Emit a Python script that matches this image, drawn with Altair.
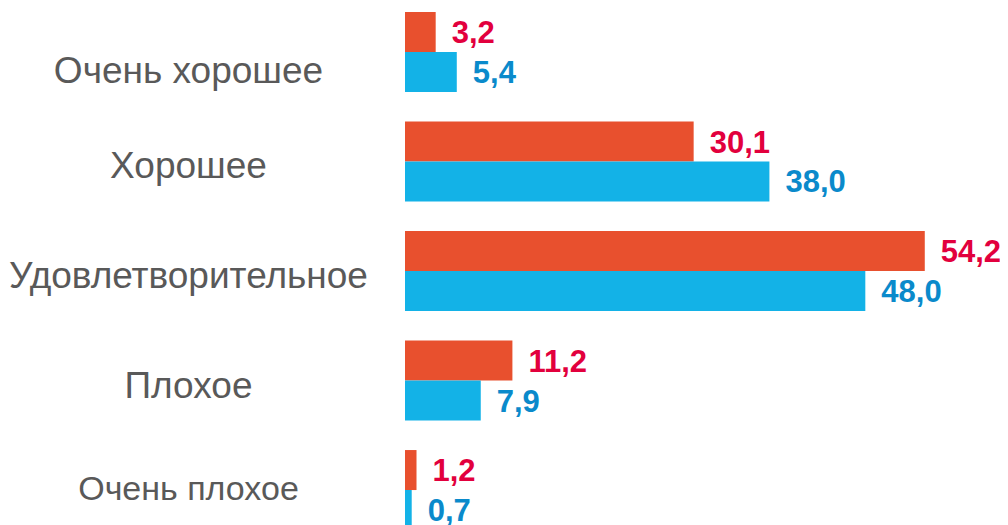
import altair as alt
import pandas as pd

categories = ["Очень хорошее", "Хорошее", "Удовлетворительное", "Плохое", "Очень плохое"]
series_names = ["A", "B"]
values_a = [3.2, 30.1, 54.2, 11.2, 1.2]
values_b = [5.4, 38.0, 48.0, 7.9, 0.7]

rows = []
for c, a, b in zip(categories, values_a, values_b):
    rows.append({"cat": c, "series": series_names[0], "value": a})
    rows.append({"cat": c, "series": series_names[1], "value": b})
df = pd.DataFrame(rows)

RED_BAR = "#E8502E"
BLUE_BAR = "#13B2E7"
RED_TXT = "#E2003D"
BLUE_TXT = "#0A8ACB"

W = 595
xscale = alt.Scale(domain=[0, W / 9.59])

first = categories[0]
last = categories[-1]
offset_expr = f"datum.value == '{first}' ? 20 : (datum.value == '{last}' ? 0 : 6)"
size_expr = f"datum.value == '{last}' ? 34 : 37"

y = alt.Y("cat:N", sort=categories,
          scale=alt.Scale(paddingInner=0.27, paddingOuter=0),
          axis=alt.Axis(title=None, domain=False, ticks=False, grid=False,
                        labelAlign="center", labelPadding=217,
                        labelFontSize={"expr": size_expr},
                        labelOffset={"expr": offset_expr},
                        labelFont="Liberation Sans", labelColor="#595959",
                        labelLimit=500, labelBaseline="middle"))
yoff = alt.YOffset("series:N", sort=series_names,
                   scale=alt.Scale(paddingInner=0, paddingOuter=0))

base = alt.Chart(df)

bars = base.mark_bar(size=40).encode(
    x=alt.X("value:Q", scale=xscale, axis=None),
    y=y,
    yOffset=yoff,
    color=alt.Color("series:N", sort=series_names,
                    scale=alt.Scale(domain=series_names, range=[RED_BAR, BLUE_BAR]),
                    legend=None),
)

labels = base.transform_calculate(
    lbl="replace(format(datum.value, '.1f'), '.', ',')"
).mark_text(align="left", baseline="middle", dx=16, dy=2, fontSize=31,
            fontWeight="bold", font="Liberation Sans").encode(
    x=alt.X("value:Q", scale=xscale, axis=None),
    y=y,
    yOffset=yoff,
    text="lbl:N",
    color=alt.condition(alt.datum.series == series_names[0],
                        alt.value(RED_TXT), alt.value(BLUE_TXT)),
)

chart = alt.layer(bars, labels).properties(
    width=W, height=518,
    autosize=alt.AutoSizeParams(type="none"),
    padding={"left": 397, "top": 4, "right": 0, "bottom": 0},
).configure_view(stroke=None)

chart.save("out.html", embed_options={"renderer": "svg", "actions": False})
